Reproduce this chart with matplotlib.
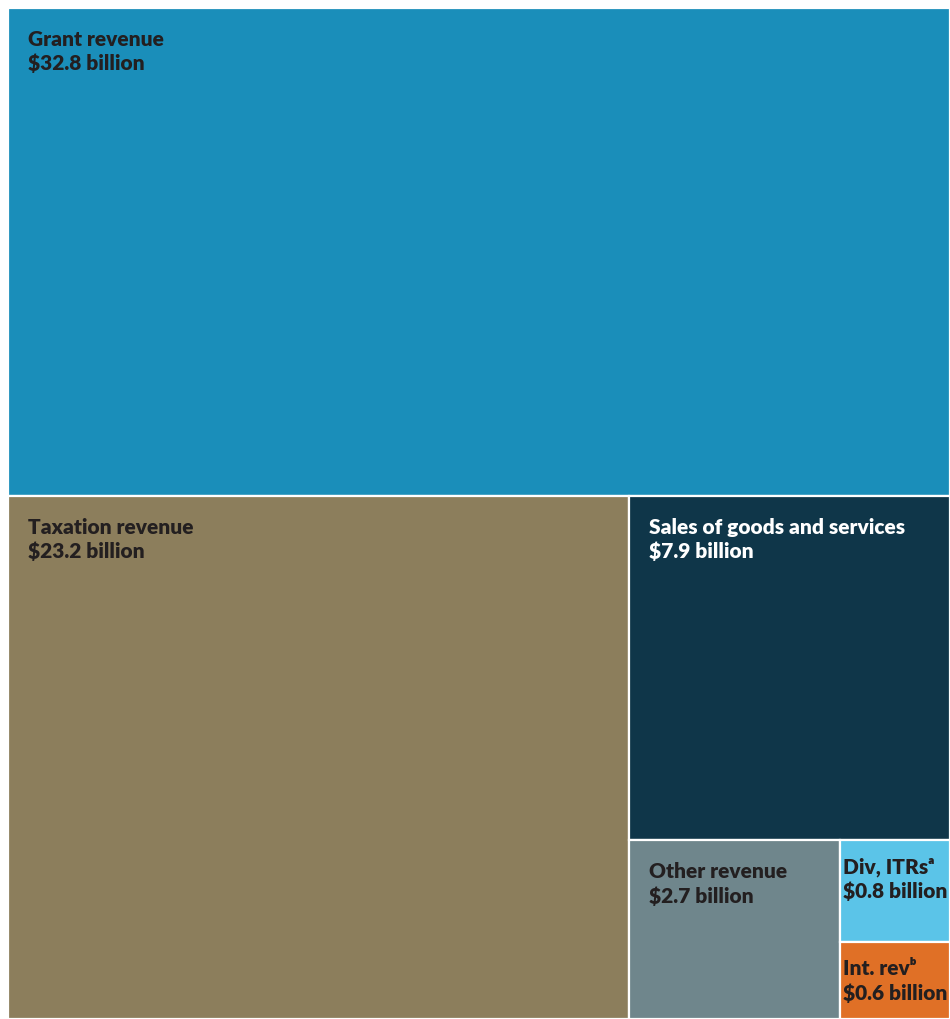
import matplotlib
matplotlib.use('Agg')
import matplotlib.pyplot as plt
from matplotlib.patches import Rectangle

# revenue components, $ billion
names = ['Grant revenue', 'Taxation revenue', 'Sales of goods and services',
         'Other revenue', 'Div, ITRs\u1d43', 'Int. rev\u1d47']
values = [32.8, 23.2, 7.9, 2.7, 0.8, 0.6]
colors = ['#1A8EBA', '#8C7E5C', '#0F3649', '#6F868C', '#5BC4E8', '#E07026']
text_colors = ['#231F20', '#231F20', '#FFFFFF', '#231F20', '#231F20', '#231F20']

plt.rcParams['font.family'] = ['Lato', 'DejaVu Sans']

W, H = 950, 1019
fig = plt.figure(figsize=(W / 100, H / 100), dpi=100)
ax = fig.add_axes([8 / W, 0, 1 - 8 / W, 1 - 8 / H])
ax.set_xlim(0, 1)
ax.set_ylim(1, 0)
ax.axis('off')

# slice-and-dice: alternate horizontal / vertical cuts, biggest item first
x0, y0, w, h = 0.0, 0.0, 1.0, 1.0
remaining = sum(values)
rects = []
for i, v in enumerate(values):
    frac = v / remaining if i < len(values) - 1 else 1.0
    if i % 2 == 0:
        rh = h * frac
        rects.append((x0, y0, w, rh))
        y0 += rh
        h -= rh
    else:
        rw = w * frac
        rects.append((x0, y0, rw, h))
        x0 += rw
        w -= rw
    remaining -= v

for (x, y, rw, rh), name, v, c, tc in zip(rects, names, values, colors, text_colors):
    ax.add_patch(Rectangle((x, y), rw, rh, facecolor=c, edgecolor='white', linewidth=1.6))
    px_w = rw * (W - 8)
    px_h = rh * (H - 8)
    pad_x = 20 if px_w > 150 else 3
    pad_y = 22 if px_h > 150 else 17
    ax.annotate(f'{name}\n${v} billion', xy=(x, y), xytext=(pad_x, -pad_y),
                textcoords='offset pixels', ha='left', va='top',
                fontsize=15, fontweight='heavy', color=tc, linespacing=1.3)

fig.savefig('out.png', dpi=100)
